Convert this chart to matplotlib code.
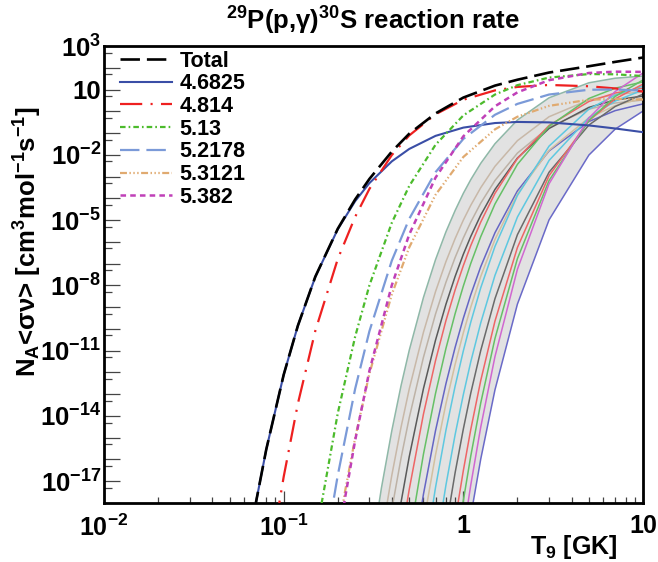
import matplotlib
matplotlib.use("Agg")
import matplotlib.pyplot as plt
import numpy as np
from matplotlib.ticker import FixedLocator, FixedFormatter, NullFormatter

plt.rcParams['font.family'] = ['Liberation Sans', 'DejaVu Sans']
plt.rcParams['font.weight'] = 'bold'
plt.rcParams['axes.labelweight'] = 'bold'
plt.rcParams['mathtext.fontset'] = 'custom'
plt.rcParams['mathtext.rm'] = 'Liberation Sans'
plt.rcParams['mathtext.bf'] = 'Liberation Sans:bold'
plt.rcParams['mathtext.it'] = 'Liberation Sans:italic'
plt.rcParams['mathtext.default'] = 'bf'
plt.rcParams['lines.scale_dashes'] = False

# --- data: log10 of N_A<sv> ---
total_T = [0.06, 0.07, 0.08, 0.1, 0.12, 0.15, 0.2, 0.25, 0.3, 0.4, 0.5, 0.7, 1, 1.5, 2, 3, 5, 7, 10]
total = [-21.30, -18.00, -15.54, -12.11, -9.85, -7.60, -5.40, -4.05, -3.11, -1.85, -1.03, -0.10,
         0.63, 1.18, 1.45, 1.78, 2.07, 2.27, 2.47]

blue_T = [0.06, 0.07, 0.08, 0.1, 0.12, 0.15, 0.2, 0.25, 0.3, 0.4, 0.5, 0.7, 1, 1.5, 2, 3, 5, 7, 10]
blue = [-21.30, -18.00, -15.54, -12.11, -9.85, -7.61, -5.42, -4.13, -3.30, -2.30, -1.73, -1.13,
        -0.75, -0.54, -0.49, -0.51, -0.65, -0.79, -0.96]

red_T = [0.08, 0.09, 0.1, 0.12, 0.15, 0.2, 0.25, 0.3, 0.4, 0.5, 0.7, 1, 1.5, 2, 3, 5, 7, 10]
red = [-21.89, -19.05, -16.80, -13.43, -10.09, -6.79, -4.85, -3.57, -2.01, -1.11, -0.14, 0.53,
       0.96, 1.12, 1.21, 1.15, 1.05, 0.91]

green_T = [0.15, 0.16, 0.2, 0.25, 0.3, 0.4, 0.5, 0.7, 1, 1.5, 2, 3, 5, 7, 10]
green = [-19.83, -18.34, -13.88, -10.35, -8.00, -5.12, -3.43, -1.54, -0.19, 0.77, 1.20, 1.55,
         1.71, 1.70, 1.62]

lblue_T = [0.18, 0.2, 0.25, 0.3, 0.4, 0.5, 0.7, 1, 1.5, 2, 3, 5, 7, 10]
lblue = [-18.95, -16.73, -12.75, -10.11, -6.86, -4.94, -2.80, -1.27, -0.16, 0.34, 0.77, 0.99,
         1.00, 0.95]

tan_T = [0.2, 0.22, 0.25, 0.3, 0.4, 0.5, 0.7, 1, 1.5, 2, 3, 5, 7, 10]
tan = [-19.46, -17.43, -15.01, -12.06, -8.41, -6.25, -3.84, -2.10, -0.83, -0.25, 0.25, 0.53,
       0.57, 0.54]

mag_T = [0.2, 0.22, 0.25, 0.3, 0.4, 0.5, 0.7, 1, 1.5, 2, 3, 5, 7, 10]
mag = [-19.92, -17.73, -15.12, -11.93, -7.99, -5.66, -3.05, -1.15, 0.23, 0.87, 1.43, 1.76,
       1.82, 1.81]

# higher-lying resonances (thin lines inside the grey band)
thin_T = [0.3, 0.35, 0.4, 0.45, 0.5, 0.6, 0.7, 0.8, 0.9, 1.0, 1.1, 1.25, 1.5, 2, 3, 5, 7, 10]
r01 = [-20.86, -17.31, -14.67, -12.61, -10.98, -8.55, -6.82, -5.54, -4.56, -3.77, -3.14, -2.39, -1.49, -0.40, 0.62, 1.31, 1.52, 1.62]
r02 = [-23.37, -19.57, -16.72, -14.52, -12.76, -10.15, -8.29, -6.91, -5.85, -5.00, -4.32, -3.51, -2.53, -1.35, -0.25, 0.52, 0.77, 0.89]
r03 = [-25.36, -21.31, -18.29, -15.94, -14.08, -11.30, -9.32, -7.86, -6.72, -5.82, -5.09, -4.22, -3.18, -1.92, -0.73, 0.10, 0.38, 0.52]
r04 = [-28.5, -24.0, -20.60, -17.97, -15.87, -12.74, -10.52, -8.87, -7.59, -6.57, -5.75, -4.77, -3.59, -2.15, -0.79, 0.18, 0.52, 0.70]
r05 = [-31.3, -26.3, -22.59, -19.68, -17.37, -13.91, -11.46, -9.62, -8.21, -7.09, -6.17, -5.09, -3.77, -2.17, -0.65, 0.45, 0.84, 1.07]
r06 = [-35.4, -29.8, -25.55, -22.27, -19.65, -15.75, -12.97, -10.90, -9.30, -8.03, -6.99, -5.76, -4.26, -2.44, -0.69, 0.59, 1.06, 1.35]
r07 = [-39.1, -32.3, -27.8, -24.4, -21.67, -17.59, -14.68, -12.52, -10.85, -9.51, -8.43, -7.14, -5.58, -3.66, -1.82, -0.47, 0.03, 0.34]
r08 = [-41.2, -34.8, -30.06, -26.34, -23.37, -18.94, -15.79, -13.44, -11.63, -10.18, -9.00, -7.59, -5.89, -3.80, -1.79, -0.30, 0.26, 0.61]
r09 = [-46.0, -38.5, -33.2, -29.05, -25.75, -20.81, -17.29, -14.66, -12.63, -11.01, -9.69, -8.11, -6.21, -3.87, -1.60, 0.10, 0.74, 1.16]
r10 = [-52.4, -44.3, -38.2, -33.5, -29.6, -24.17, -20.17, -17.18, -14.86, -13.02, -11.51, -9.72, -7.54, -4.86, -2.26, -0.29, 0.47, 0.98]
r11 = [-57.0, -48.8, -42.2, -37.0, -32.9, -26.79, -22.41, -19.15, -16.61, -14.60, -12.95, -10.99, -8.61, -5.67, -2.80, -0.63, 0.22, 0.79]
r12 = [-65.7, -55.6, -48.0, -42.1, -37.5, -30.4, -25.4, -21.71, -18.81, -16.51, -14.62, -12.37, -9.64, -6.26, -2.96, -0.43, 0.57, 1.25]
r13 = [-71.1, -60.2, -52.0, -45.6, -40.6, -33.0, -27.6, -23.5, -20.39, -17.89, -15.84, -13.40, -10.44, -6.77, -3.18, -0.42, 0.68, 1.44]
r14 = [-80.0, -66.0, -56.9, -49.6, -43.9, -36.2, -30.0, -25.54, -22.12, -19.39, -17.17, -14.51, -11.27, -7.26, -3.33, -0.31, 0.91, 1.76]
r15 = [-78.6, -66.1, -57.4, -51.1, -46.1, -37.0, -31.5, -27.8, -23.5, -20.80, -18.60, -15.98, -12.80, -8.86, -4.99, -2.01, -0.82, 0.01]
thin = [r01, r02, r03, r04, r05, r06, r07, r08, r09, r10, r11, r12, r13, r14, r15]
thin_colors = ['#8fb8a8', '#c8b8a8', '#bdb2a6', '#5a5a5a', '#ee6666', '#66c066', '#6666c4',
               '#d2c0a0', '#5ec8e0', '#5ec8e0', '#6a6a6a', '#ee6666', '#66c066', '#d068d0', '#6a6ac8']

labels = ['Total', '4.6825', '4.814', '5.13', '5.2178', '5.3121', '5.382']
y_ticklabels = {3: '$10^{3}$', 1: '10', -2: '$10^{-2}$', -5: '$10^{-5}$', -8: '$10^{-8}$',
                -11: '$10^{-11}$', -14: '$10^{-14}$', -17: '$10^{-17}$'}
x_ticklabels = ['$10^{-2}$', '$10^{-1}$', '1', '10']


def p(v):
    return 10.0 ** np.array(v)


fig = plt.figure(figsize=(6.58, 5.62), dpi=100)
ax = fig.add_axes([104/658, 1-503/562, 539/658, 457/562])

ax.fill_between(thin_T, p(r15), p(r01), color='#e2e2e2', lw=0, zorder=1)
for vals, c in zip(thin, thin_colors):
    ax.plot(thin_T, p(vals), color=c, lw=1.1, zorder=2)

h_tot, = ax.plot(total_T, p(total), color='black', lw=1.9, dashes=(14, 5), zorder=6)
h_b, = ax.plot(blue_T, p(blue), color='#3a4ea6', lw=1.5, zorder=5)
h_r, = ax.plot(red_T, p(red), color='#ee2020', lw=1.6, dashes=(16, 6, 1.5, 6), zorder=5)
h_g, = ax.plot(green_T, p(green), color='#4cbb2c', lw=1.6, dashes=(4, 2.2, 1.2, 2.2), zorder=5)
h_lb, = ax.plot(lblue_T, p(lblue), color='#7b9ad8', lw=1.6, dashes=(14, 5), zorder=5)
h_t, = ax.plot(tan_T, p(tan), color='#e0aa70', lw=1.6, dashes=(5, 1.8, 1, 1.8, 1, 1.8, 1, 1.8), zorder=5)
h_m, = ax.plot(mag_T, p(mag), color='#c040b8', lw=1.8, dashes=(4, 3), zorder=5)

ax.set_xscale('log')
ax.set_yscale('log')
ax.set_xlim(1e-2, 10)
ax.set_ylim(1e-18, 1e3)

# y ticks: long at every decade, short at 5x10^n, labels every third decade
yexp = list(range(-18, 4))
ax.yaxis.set_major_locator(FixedLocator([10.0 ** e for e in yexp]))
ax.yaxis.set_major_formatter(FixedFormatter([y_ticklabels.get(e, '') for e in yexp]))
ax.yaxis.set_minor_locator(FixedLocator([5 * 10.0 ** e for e in range(-18, 3)]))
ax.yaxis.set_minor_formatter(NullFormatter())

ax.xaxis.set_major_locator(FixedLocator([1e-2, 1e-1, 1, 10]))
ax.xaxis.set_major_formatter(FixedFormatter(x_ticklabels))
ax.xaxis.set_minor_locator(FixedLocator([m * 10.0 ** e for e in (-2, -1, 0) for m in range(2, 10)]))
ax.xaxis.set_minor_formatter(NullFormatter())

ax.tick_params(axis='y', which='major', direction='in', length=11.5, width=0.9,
               color='#444444', labelsize=18.5, pad=2)
ax.tick_params(axis='y', which='minor', direction='in', length=5.8, width=0.9, color='#444444')
ax.tick_params(axis='x', which='major', direction='in', length=8.5, width=0.9,
               color='#444444', labelsize=18, pad=8)
ax.tick_params(axis='x', which='minor', direction='in', length=4.3, width=0.9, color='#444444')
for s in ax.spines.values():
    s.set_linewidth(2.0)

ax.set_ylabel(r'N$_{A}$<$\mathrm{\sigma\nu}$> [cm$^{3}$mol$^{-1}$s$^{-1}$]', fontsize=18.5,
              fontweight='bold')
ax.yaxis.set_label_coords(-0.112, 0.571)
ax.text(0.952, -0.096, r'T$_{9}$ [GK]', transform=ax.transAxes, ha='right', va='center',
        fontsize=18, fontweight='bold')
fig.text(373/658, 1-21/562, r'$^{29}$P(p,$\mathrm{\gamma}$)$^{30}$S reaction rate',
         ha='center', va='center', fontsize=18.5, fontweight='bold')

ax.legend([h_tot, h_b, h_r, h_g, h_lb, h_t, h_m], labels, loc='upper left',
          bbox_to_anchor=(0.03, 0.99), frameon=False, fontsize=15.5, handlelength=2.4,
          handletextpad=0.35, labelspacing=0.08, borderpad=0, borderaxespad=0)

fig.savefig('out.png', dpi=100)
